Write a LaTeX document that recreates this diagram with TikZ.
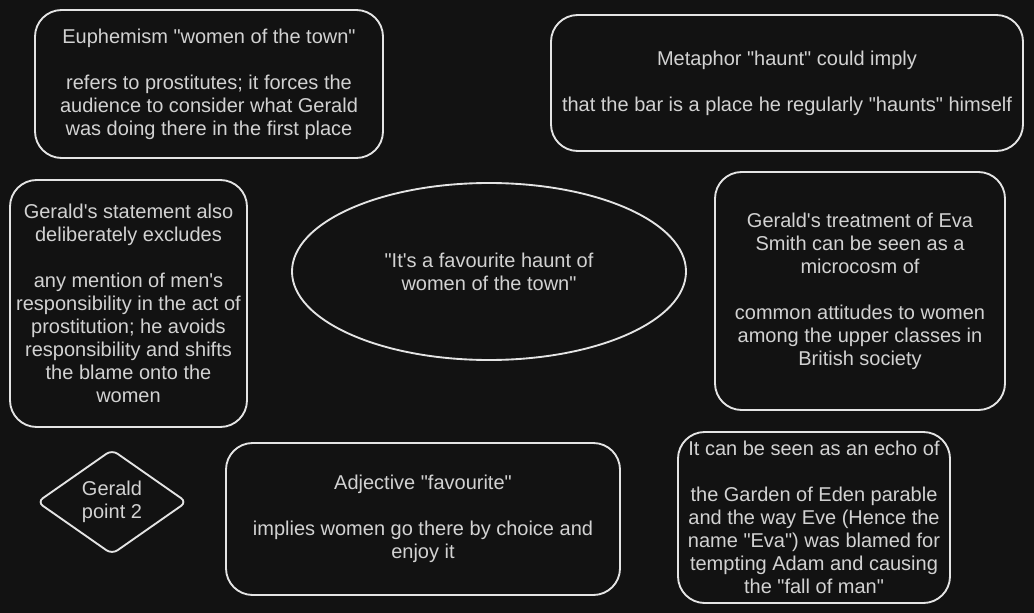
\documentclass[tikz,border=0pt]{standalone}
\usepackage{fontspec}
\setmainfont{Liberation Sans}[Ligatures=TeXOff]
\usetikzlibrary{shapes.geometric}
\definecolor{bg}{HTML}{121212}
\definecolor{ink}{HTML}{E4E4E4}
\definecolor{txt}{HTML}{D2D2D2}
\tikzset{
  card/.style={draw=ink, line width=1.4pt, rounded corners=20pt, align=center, inner sep=0pt,
    text=txt, font=\fontsize{15pt}{17.25pt}\selectfont},
  oval/.style={card, ellipse, rounded corners=0pt},
  rhomb/.style={card, diamond, rounded corners=5pt, aspect=1.4}
}
\begin{document}
\begin{tikzpicture}[x=0.75pt,y=-0.75pt]
\fill[bg] (0,0) rectangle (1034,613);
\useasboundingbox (0,0) rectangle (1034,613);
\node[card, minimum width=261pt, minimum height=111pt] (euph) at (209,84)
  {Euphemism "women of the town"\\[17.25pt]refers to prostitutes; it forces the\\audience to consider what Gerald\\was doing there in the first place};
\node[card, minimum width=354pt, minimum height=102pt] (meta) at (787,83)
  {Metaphor "haunt" could imply\\[17.25pt]that the bar is a place he regularly "haunts" himself};
\node[card, minimum width=177.75pt, minimum height=185.25pt] (stat) at (128.5,303.5)
  {Gerald's statement also\\deliberately excludes\\[17.25pt]any mention of men's\\responsibility in the act of\\prostitution; he avoids\\responsibility and shifts\\the blame onto the\\women};
\node[oval, minimum width=295.5pt, minimum height=132.75pt] (quote) at (489,271.5)
  {"It's a favourite haunt of\\women of the town"};
\node[card, minimum width=217.5pt, minimum height=178.5pt] (treat) at (860,291)
  {Gerald's treatment of Eva\\Smith can be seen as a\\microcosm of\\[17.25pt]common attitudes to women\\among the upper classes in\\British society};
\node[rhomb, minimum width=112.5pt, minimum height=78.75pt] (point) at (112,502)
  {Gerald\\point 2};
\node[card, minimum width=295.5pt, minimum height=114pt] (adj) at (423,519)
  {Adjective "favourite"\\[17.25pt]implies women go there by choice and\\enjoy it};
\node[card, minimum width=204pt, minimum height=128.25pt] (echo) at (814,517.5)
  {It can be seen as an echo of\\[17.25pt]the Garden of Eden parable\\and the way Eve (Hence the\\name "Eva") was blamed for\\tempting Adam and causing\\the "fall of man"};
\end{tikzpicture}
\end{document}
